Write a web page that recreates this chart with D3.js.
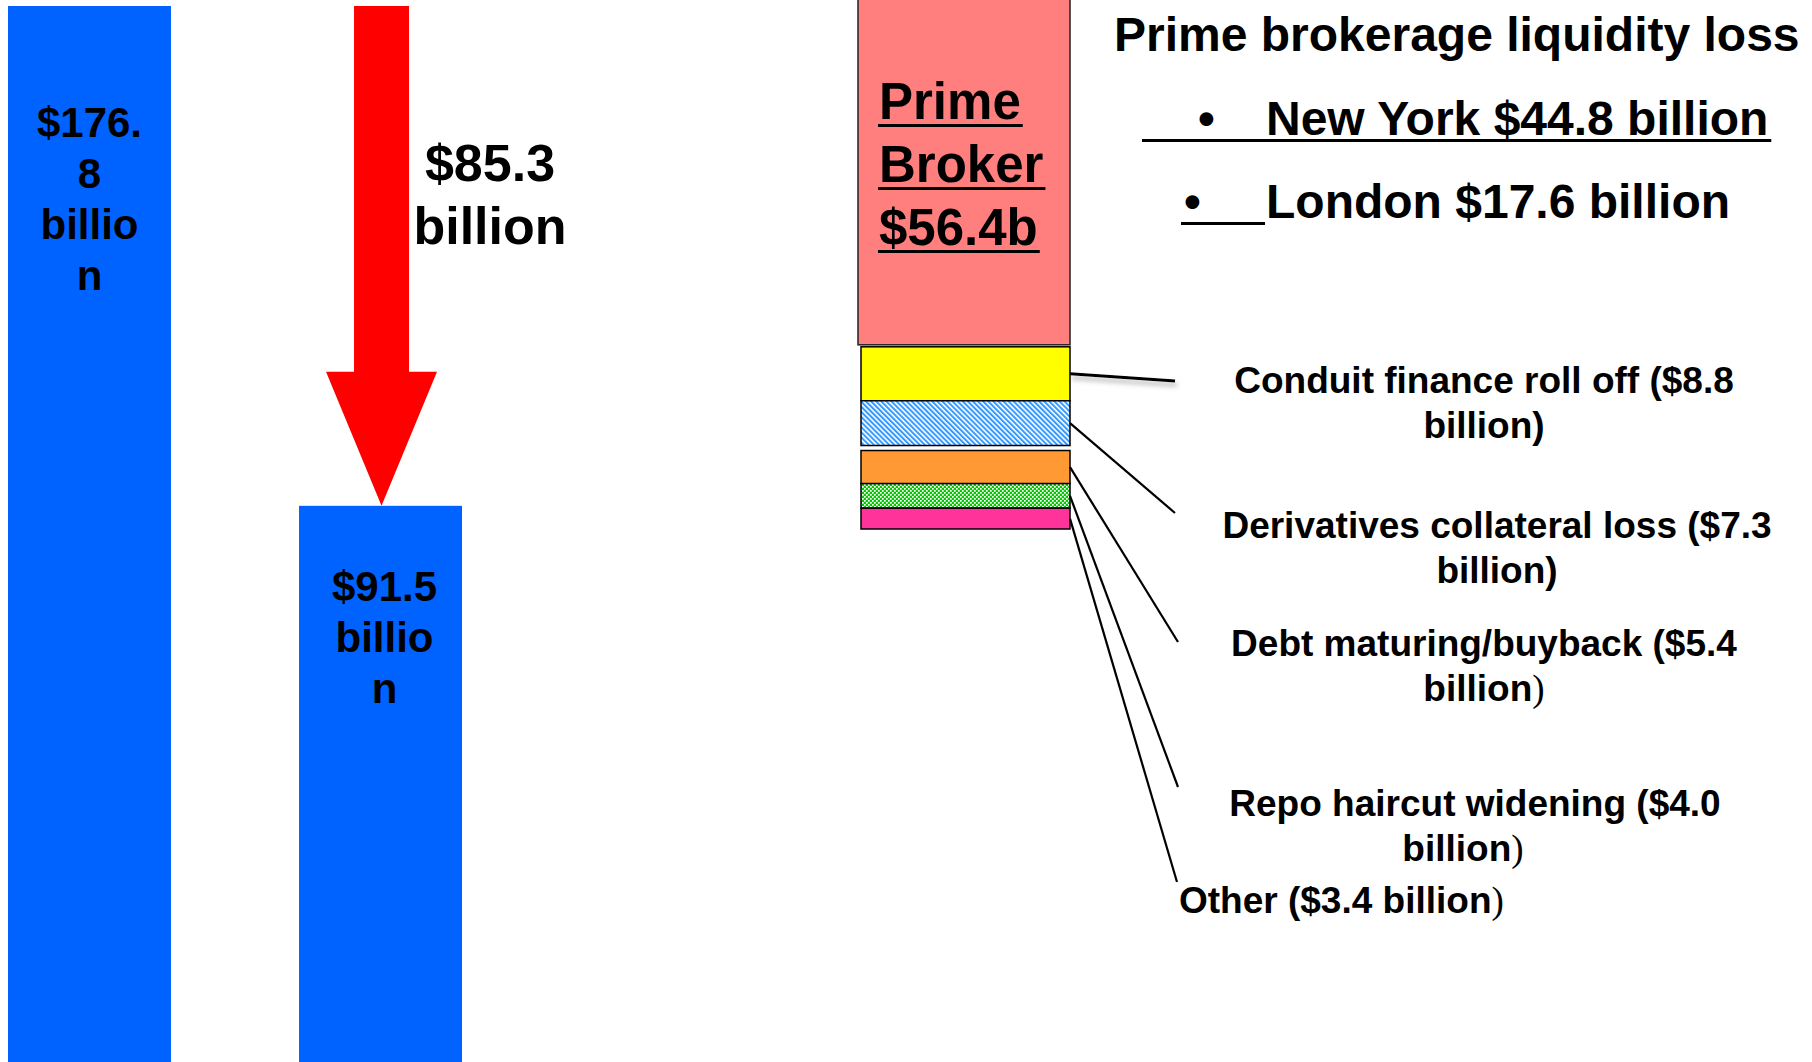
<!DOCTYPE html>
<html>
<head>
<meta charset="utf-8">
<script src="https://cdn.jsdelivr.net/npm/d3@7"></script>
<style>
  html, body { margin: 0; padding: 0; background: #fff; }
  svg { display: block; }
  text { font-family: "Liberation Sans", Arial, sans-serif; font-weight: bold; fill: #000; }
</style>
</head>
<body>
<svg id="chart" width="1812" height="1062"></svg>
<script>
// liquidity pool before and after (billions)
const barNames = ["Before", "After"];
const barValues = [176.8, 91.5];

// breakdown of the drop
const primeBroker = 56.4;
const lossNames = ["Conduit finance roll off", "Derivatives collateral loss", "Debt maturing/buyback", "Repo haircut widening", "Other"];
const lossValues = [8.8, 7.3, 5.4, 4.0, 3.4];

// prime brokerage split
const cityNames = ["New York", "London"];
const cityValues = [44.8, 17.6];

const lossFills = ["#ffff00", "url(#hatchBlue)", "#ff9933", "url(#checkGreen)", "#ff3399"];

const width = 1812, height = 1062;
const svg = d3.select("#chart");

const ctx = document.createElement("canvas").getContext("2d");
function textWidth(str, size) {
    ctx.font = "bold " + size + "px 'Liberation Sans', Arial";
    return ctx.measureText(str).width;
}

// wrap like a narrow text box: words go on own line, long words get split
function charWrap(str, size, maxW) {
    const lines = [];
    str.split(" ").forEach(word => {
        let cur = "";
        for (const ch of word) {
            if (cur && textWidth(cur + ch, size) > maxW) {
                lines.push(cur);
                cur = ch;
            } else {
                cur += ch;
            }
        }
        lines.push(cur);
    });
    return lines;
}

// patterns + shadow
const defs = svg.append("defs");
const hatch = defs.append("pattern")
    .attr("id", "hatchBlue")
    .attr("patternUnits", "userSpaceOnUse")
    .attr("width", 3.6).attr("height", 3.6)
    .attr("patternTransform", "rotate(-45)");
hatch.append("rect").attr("width", 3.6).attr("height", 3.6).attr("fill", "#fff");
hatch.append("rect").attr("width", 2).attr("height", 3.6).attr("fill", "#3399ff");

const check = defs.append("pattern")
    .attr("id", "checkGreen")
    .attr("patternUnits", "userSpaceOnUse")
    .attr("width", 4).attr("height", 4);
check.append("rect").attr("width", 4).attr("height", 4).attr("fill", "#00cc00");
check.append("rect").attr("x", 0).attr("y", 0).attr("width", 1.7).attr("height", 1.7).attr("fill", "#fff");
check.append("rect").attr("x", 2).attr("y", 2).attr("width", 1.7).attr("height", 1.7).attr("fill", "#fff");

defs.append("filter")
    .attr("id", "shadow")
    .attr("filterUnits", "userSpaceOnUse")
    .attr("x", 1040).attr("y", 350).attr("width", 170).attr("height", 60)
  .append("feDropShadow")
    .attr("dx", 2).attr("dy", 4).attr("stdDeviation", 2.5)
    .attr("flood-color", "#777").attr("flood-opacity", 0.6);

// ---- left: the two blue bars and the red arrow ----
const x = d3.scaleBand().domain(barNames).range([8, 462]).paddingInner(0.44);
const y = d3.scaleLinear().domain([0, d3.max(barValues)]).range([1042, 6]);

svg.append("g").selectAll("rect")
    .data(barValues)
    .join("rect")
    .attr("x", (d, i) => x(barNames[i]))
    .attr("y", d => y(d))
    .attr("width", x.bandwidth())
    .attr("height", d => height - y(d))
    .attr("fill", "#0062ff");

const barLabelOffset = [131, 95];
const barLabelSize = 42;
barValues.forEach((v, i) => {
    const lines = charWrap("$" + v.toFixed(1) + " billion", barLabelSize, x.bandwidth() - 48);
    const cx = x(barNames[i]) + x.bandwidth() / 2 + (i ? 4 : 0);
    svg.append("text")
        .attr("text-anchor", "middle")
        .attr("font-size", barLabelSize)
        .attr("y", y(v) + barLabelOffset[i])
      .selectAll("tspan")
        .data(lines)
        .join("tspan")
        .attr("x", cx)
        .attr("dy", (d, j) => j ? 51 : 0)
        .text(d => d);
});

// red arrow from old level down to new level
const drop = barValues[0] - barValues[1];
const ax = x(barNames[1]) + x.bandwidth() / 2 + 1;
const aTop = y(barValues[0]), aTip = y(barValues[1]);
const shaftW = 27.5, headW = 55.5, headLen = 134;
const arrowPath = d3.path();
arrowPath.moveTo(ax - shaftW, aTop);
arrowPath.lineTo(ax + shaftW, aTop);
arrowPath.lineTo(ax + shaftW, aTip - headLen);
arrowPath.lineTo(ax + headW, aTip - headLen);
arrowPath.lineTo(ax, aTip);
arrowPath.lineTo(ax - headW, aTip - headLen);
arrowPath.lineTo(ax - shaftW, aTip - headLen);
arrowPath.closePath();
svg.append("path").attr("d", arrowPath.toString()).attr("fill", "#ff0000");

svg.append("text")
    .attr("text-anchor", "middle")
    .attr("font-size", 52)
    .selectAll("tspan")
    .data(["$" + drop.toFixed(1), "billion"])
    .join("tspan")
    .attr("x", 490)
    .attr("y", (d, i) => 181 + i * 63)
    .text(d => d);

// ---- right: stacked breakdown ----
const stackVals = [primeBroker].concat(lossValues);
const stackY = d3.scaleLinear().domain([0, d3.sum(stackVals)]).range([-1, 522]);
const gapAfter = [2, 0, 5, 0, 0, 0];
const stackX = 858, stackW = 212;

let cum = 0, off = 0;
const segs = stackVals.map((v, i) => {
    const s = { y0: stackY(cum) + off, y1: stackY(cum + v) + off };
    cum += v;
    off += gapAfter[i];
    return s;
});

svg.append("g").selectAll("rect")
    .data(segs)
    .join("rect")
    .attr("x", (d, i) => i ? stackX + 3 : stackX)
    .attr("y", d => d.y0)
    .attr("width", (d, i) => i ? stackW - 3 : stackW)
    .attr("height", d => d.y1 - d.y0)
    .attr("fill", (d, i) => i ? lossFills[i - 1] : "#ff7f7f")
    .attr("stroke", (d, i) => i ? "#000" : "#222")
    .attr("stroke-width", 1.5);

// "Prime Broker $56.4b" inside the pink box, underlined
const pbSize = 51;
["Prime", "Broker", "$" + primeBroker + "b"].forEach((w, i) => {
    const by = 119 + i * 63;
    svg.append("text").attr("x", 879).attr("y", by).attr("font-size", pbSize).text(w);
    svg.append("line")
        .attr("x1", 878).attr("x2", 879 + textWidth(w, pbSize) + 2)
        .attr("y1", by + 6.5).attr("y2", by + 6.5)
        .attr("stroke", "#000").attr("stroke-width", 3);
});

// leader lines + labels
const leaderEnds = [[1175, 381], [1175, 513], [1178, 642], [1178, 787], [1177, 882]];
const labelPos = [[1484, 393], [1497, 538], [1484, 656], [1475, 816], [1179, 913]];
const line2Shift = [0, 0, 0, -12, 0];

leaderEnds.forEach((p, i) => {
    const s = segs[i + 1];
    svg.append("line")
        .attr("x1", stackX + stackW).attr("y1", (s.y0 + s.y1) / 2)
        .attr("x2", p[0]).attr("y2", p[1])
        .attr("stroke", "#000")
        .attr("stroke-width", i === 0 ? 3 : 2.2)
        .attr("filter", i === 0 ? "url(#shadow)" : null);
});

const labelSize = 37;
lossNames.forEach((name, i) => {
    const last = i === lossNames.length - 1;
    const serifParen = i >= 2; // these use a thin paren in the original
    const t = svg.append("text")
        .attr("font-size", labelSize)
        .attr("text-anchor", last ? "start" : "middle");
    if (last) {
        t.attr("x", labelPos[i][0]).attr("y", labelPos[i][1]);
        t.append("tspan").text(name + " ($" + lossValues[i].toFixed(1) + " billion");
        t.append("tspan").attr("font-family", "'Liberation Serif', serif").attr("font-weight", "normal").text(")");
    } else {
        t.append("tspan")
            .attr("x", labelPos[i][0]).attr("y", labelPos[i][1])
            .text(name + " ($" + lossValues[i].toFixed(1));
        const l2 = t.append("tspan")
            .attr("x", labelPos[i][0] + line2Shift[i]).attr("y", labelPos[i][1] + 45);
        if (serifParen) {
            l2.append("tspan").text("billion");
            l2.append("tspan").attr("font-family", "'Liberation Serif', serif").attr("font-weight", "normal").text(")");
        } else {
            l2.text("billion)");
        }
    }
});

// ---- top right text block ----
svg.append("text")
    .attr("x", 1114).attr("y", 51)
    .attr("font-size", 48)
    .text("Prime brokerage liquidity loss");

const cityBullets = [1198, 1184];
const cityBase = [135, 218];
cityNames.forEach((c, i) => {
    const str = c + " $" + cityValues[i].toFixed(1) + " billion";
    svg.append("text").attr("x", cityBullets[i]).attr("y", cityBase[i]).attr("font-size", 48).text("\u2022");
    svg.append("text").attr("x", 1266).attr("y", cityBase[i]).attr("font-size", 48).text(str);
    // New York line is underlined across, London only under the bullet/tab
    const ux1 = i === 0 ? 1142 : 1181;
    const ux2 = i === 0 ? 1266 + textWidth(str, 48) + 2 : 1265;
    svg.append("line")
        .attr("x1", ux1).attr("x2", ux2)
        .attr("y1", cityBase[i] + 5.5).attr("y2", cityBase[i] + 5.5)
        .attr("stroke", "#000").attr("stroke-width", 3);
});
</script>
</body>
</html>
